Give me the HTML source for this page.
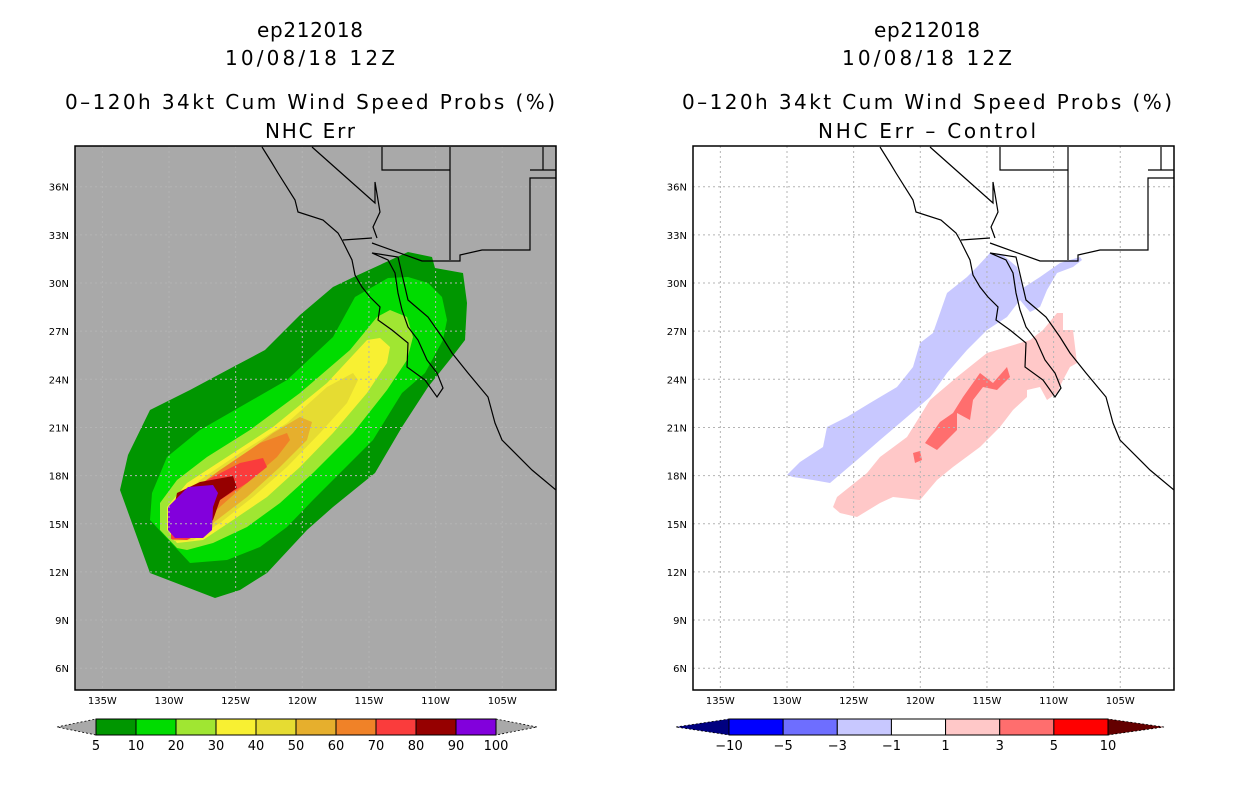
<!DOCTYPE html>
<html><head><meta charset="utf-8"><style>
body{margin:0;background:#fff;width:1236px;height:800px;overflow:hidden}
svg text{font-family:"DejaVu Sans","Liberation Sans",sans-serif}
</style></head><body>
<svg id="s" width="1236" height="800" xmlns="http://www.w3.org/2000/svg"></svg>
<script>
// colour bar data
const probLevels=["5","10","20","30","40","50","60","70","80","90","100"];
const probColors=["#009600","#00dc00","#a0e632","#f8f032","#e6dc32","#e6af2d","#f08228","#fa3c3c","#960000","#8200dc"];
const diffLevels=["\u221210","\u22125","\u22123","\u22121","1","3","5","10"];
const diffColors=["#0000ff","#6e6eff","#c8c8ff","#ffffff","#ffc8c8","#ff6e6e","#ff0000"];
const lonTicks=[-135,-130,-125,-120,-115,-110,-105];
const latTicks=[36,33,30,27,24,21,18,15,12,9,6];
const S=document.getElementById('s');const NS="http://www.w3.org/2000/svg";
function el(t,a,p){const e=document.createElementNS(NS,t);for(const k in a)e.setAttribute(k,a[k]);(p||S).appendChild(e);return e;}
function X(lon){return 169+(lon+130)*13.33;}
function Y(lat){return 283-(lat-30)*16.05;}
const probPolys=[
[[215,598],[150,573],[120,490],[128,455],[150,410],[190,390],[233,367],[265,350],[300,315],[333,287],[358,275],[408,252],[432,257],[435,268],[463,273],[467,303],[465,340],[452,357],[428,387],[402,427],[375,473],[333,507],[307,530],[267,573],[240,590]],
[[190,563],[150,520],[152,493],[167,457],[200,430],[240,407],[287,380],[333,337],[355,297],[388,278],[408,277],[428,283],[442,297],[447,320],[443,340],[425,373],[402,393],[373,440],[340,473],[313,500],[287,527],[260,547],[227,560]],
[[177,548],[160,530],[160,503],[177,480],[207,457],[250,430],[300,393],[350,350],[377,317],[390,310],[407,317],[413,337],[407,360],[387,390],[353,433],[313,473],[280,503],[247,527],[213,543],[187,550]],
[[177,543],[167,530],[167,507],[187,483],[227,457],[273,427],[327,383],[367,340],[380,338],[390,347],[387,363],[367,393],[333,433],[300,467],[267,497],[233,520],[203,540]],
[[174,541],[169,525],[175,505],[200,480],[240,453],[287,423],[327,387],[353,373],[358,380],[347,403],[320,433],[287,467],[253,497],[220,523],[193,540]],
[[173,540],[170,520],[187,493],[227,467],[273,433],[300,417],[312,422],[307,440],[280,467],[247,497],[213,523],[187,540]],
[[172,540],[172,515],[183,497],[220,470],[260,443],[287,433],[290,440],[277,457],[247,483],[213,513],[187,538]],
[[171,539],[171,515],[177,503],[207,480],[240,463],[263,458],[267,467],[247,483],[220,500],[207,530],[187,540]],
[[170,527],[177,493],[200,482],[233,476],[237,488],[220,500],[213,520],[200,533]],
[[168,507],[188,487],[213,485],[218,493],[213,507],[212,530],[203,538],[175,538],[168,530]]];
const bluePoly=[[787,475],[800,462],[823,447],[827,427],[847,417],[870,403],[897,387],[913,367],[920,343],[933,333],[940,313],[947,293],[967,277],[977,267],[990,253],[1003,255],[1017,267],[1023,288],[1040,277],[1060,263],[1080,257],[1082,260],[1073,267],[1057,273],[1047,290],[1040,307],[1030,312],[1020,300],[1007,317],[987,330],[967,350],[947,373],[930,397],[907,417],[880,440],[857,460],[830,483],[813,480],[793,477]];
const pinkPoly=[[833,507],[837,497],[867,473],[880,457],[907,437],[930,400],[957,377],[987,353],[1007,347],[1030,340],[1043,330],[1057,313],[1063,313],[1063,330],[1073,330],[1077,363],[1070,367],[1063,380],[1057,393],[1047,400],[1040,387],[1027,390],[1027,397],[1013,410],[1000,427],[980,447],[953,467],[937,480],[920,500],[893,497],[880,503],[857,517],[840,513]];
const redPolys=[[[925,443],[940,422],[953,413],[963,397],[980,373],[993,383],[1007,367],[1010,377],[997,390],[983,387],[973,400],[970,420],[957,413],[957,430],[937,450]],[[913,453],[920,451],[922,460],[915,463]]];
const coasts=[
[[262,147],[272,163],[278,173],[295,200],[298,212],[323,220],[338,233],[342,240],[352,260],[355,275],[362,287],[370,297],[380,307],[378,320],[392,330],[408,343],[407,367],[425,380],[437,397],[443,388],[437,373],[427,360],[418,340],[408,327],[402,310],[398,293],[395,273],[388,260],[372,253],[398,257],[408,300],[428,317],[442,337],[452,353],[468,373],[488,397],[495,423],[502,440],[532,470],[556,490]],
[[343,240],[372,238]],[[372,243],[422,261],[460,261],[460,255],[482,250],[530,250],[530,178],[557,178]],
[[312,147],[375,203],[375,182],[380,212],[373,227],[377,238]],
[[382,147],[382,170],[450,170]],[[450,147],[450,260]],[[530,170],[557,170]],[[543,147],[543,170]]];
function pts(a,dx){return a.map(p=>(p[0]+dx)+","+p[1]).join(" ");}
function panel(dx,bg,name){
  const g=el('g',{});  
  el('rect',{x:75+dx,y:146,width:481,height:544,fill:bg},g);
  const cp=el('clipPath',{id:'c'+dx},g);
  el('rect',{x:75+dx,y:146,width:481,height:544},cp);
  const inner=el('g',{'clip-path':'url(#c'+dx+')'},g);
  return {g,inner};
}
function grid(dx,inner){
  lonTicks.forEach(l=>{const x=X(l)+dx;const ln=el('line',{x1:x,x2:x,y1:146,y2:690,stroke:'#b4b4b4','stroke-dasharray':'2,3'},inner);});
  latTicks.forEach(l=>{const y=Y(l);const ln=el('line',{x1:75+dx,x2:556+dx,y1:y,y2:y,stroke:'#b4b4b4','stroke-dasharray':'2,3'},inner);});
}
function axes(dx,g){
  lonTicks.forEach(l=>{const t=el('text',{x:X(l)+dx,y:704,'font-size':10,'text-anchor':'middle'},g);t.textContent=(-l)+'W';});
  latTicks.forEach(l=>{const t=el('text',{x:69+dx,y:Y(l)+4,'font-size':10,'text-anchor':'end'},g);t.textContent=l+'N';});
  el('rect',{x:75+dx,y:146,width:481,height:544,fill:'none',stroke:'#000','stroke-width':1.5},g);
}
function coast(dx,inner){coasts.forEach(c=>{const p=el('polyline',{points:pts(c,dx),fill:'none',stroke:'#000','stroke-width':1.2},inner);});}
function titles(cx,lines,widths){[[30,lines[0]],[58,lines[1]],[102,lines[2]],[131,lines[3]]].forEach(([y,s],i)=>{const t=el('text',{x:cx,y:y+7,'font-size':20,'text-anchor':'middle',textLength:widths[i],lengthAdjust:'spacing'});t.textContent=s;});}
let L=panel(0,'#a9a9a9','left-map');
probPolys.forEach((p,i)=>{const e=el('polygon',{points:pts(p,0),fill:probColors[i]},L.inner);});
grid(0,L.inner);coast(0,L.inner);axes(0,L.g);
titles(310,["ep212018","10/08/18 12Z","0\u2013120h 34kt Cum Wind Speed Probs (%)","NHC Err"],[106,170,490,90]);
let R=panel(618,'#ffffff','right-map');
let b=el('polygon',{points:pts(bluePoly,0),fill:diffColors[2]},R.inner);
let pk=el('polygon',{points:pts(pinkPoly,0),fill:diffColors[4]},R.inner);
redPolys.forEach(p=>{const e=el('polygon',{points:pts(p,0),fill:diffColors[5]},R.inner);});
grid(618,R.inner);coast(618,R.inner);axes(618,R.g);
titles(927,["ep212018","10/08/18 12Z","0\u2013120h 34kt Cum Wind Speed Probs (%)","NHC Err \u2013 Control"],[106,170,490,218]);
function cbar(x0,x1,tipL,tipR,colors,labels,lc,rc,name){
  const g=el('g',{});
  const y0=719,y1=735,w=(x1-x0)/colors.length;
  el('polygon',{points:`${tipL},727 ${x0},${y0} ${x0},${y1}`,fill:lc,stroke:'#000','stroke-width':0.8,'stroke-dasharray':'2,2'},g);
  el('polygon',{points:`${tipR},727 ${x1},${y0} ${x1},${y1}`,fill:rc,stroke:'#000','stroke-width':0.8,'stroke-dasharray':'2,2'},g);
  colors.forEach((c,i)=>{const r=el('rect',{x:x0+i*w,y:y0,width:w,height:y1-y0,fill:c,stroke:'#000','stroke-width':1},g);});
  labels.forEach((s,i)=>{const t=el('text',{x:x0+i*w,y:750,'font-size':13,'text-anchor':'middle'},g);t.textContent=s;});
}
cbar(96,496,57,537,probColors,probLevels,'#a9a9a9','#a9a9a9','prob-colorbar');
cbar(729,1108,676,1164,diffColors,diffLevels,'#000080','#640000','diff-colorbar');
</script></body></html>
